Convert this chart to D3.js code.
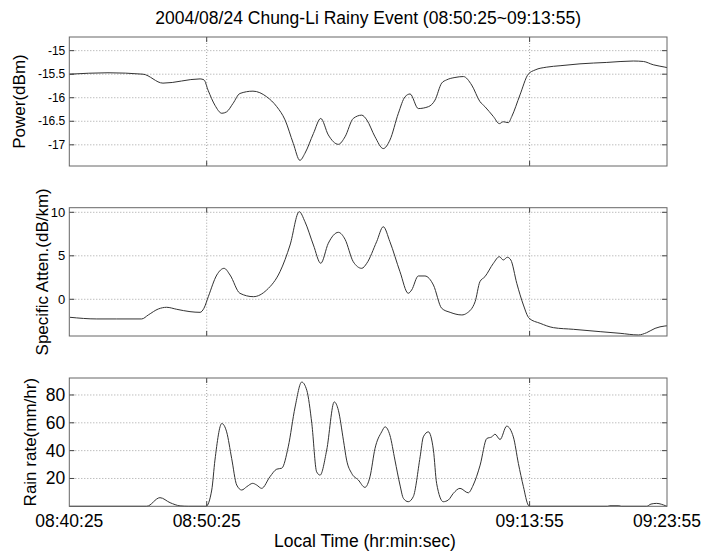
<!DOCTYPE html>
<html>
<head>
<meta charset="utf-8">
<script src="https://cdn.jsdelivr.net/npm/d3@7"></script>
<style>
  body { margin: 0; background: #fff; }
  text { font-family: 'Liberation Sans', Arial, sans-serif; fill: #000; }
</style>
</head>
<body>
<svg id="chart" width="703" height="551"></svg>
<script>
// seconds after 08:40:25
const xTickTimes = [0, 600, 2010, 2610];
const xTickLabels = ['08:40:25', '08:50:25', '09:13:55', '09:23:55'];

const powerTicks = [-15, -15.5, -16, -16.5, -17];
const attenTicks = [0, 5, 10];
const rainTicks = [20, 40, 60, 80];

const powerTime = [0, 169, 322, 409, 571, 588, 606, 636, 666, 687, 715, 745, 802, 862, 906, 942, 978, 1007, 1029, 1066, 1098, 1131, 1175, 1204, 1240, 1277, 1299, 1335, 1371, 1400, 1437, 1466, 1488, 1524, 1568, 1597, 1626, 1648, 1684, 1721, 1757, 1793, 1815, 1852, 1878, 1895, 1917, 1932, 1968, 2004, 2034, 2085, 2143, 2230, 2347, 2463, 2507, 2550, 2601, 2610];
const powerValues = [-15.50, -15.47, -15.50, -15.69, -15.60, -15.62, -15.84, -16.16, -16.33, -16.30, -16.12, -15.91, -15.86, -15.98, -16.19, -16.47, -16.97, -17.33, -17.18, -16.76, -16.44, -16.79, -16.99, -16.83, -16.44, -16.37, -16.47, -16.83, -17.08, -16.90, -16.33, -15.98, -15.92, -16.23, -16.19, -16.05, -15.69, -15.62, -15.57, -15.55, -15.73, -16.08, -16.19, -16.40, -16.55, -16.51, -16.53, -16.40, -15.94, -15.50, -15.41, -15.35, -15.32, -15.28, -15.25, -15.22, -15.23, -15.30, -15.35, -15.36];

const attenTime = [3, 120, 207, 316, 345, 389, 425, 469, 527, 571, 588, 607, 644, 676, 702, 745, 804, 862, 920, 964, 1004, 1029, 1066, 1098, 1131, 1175, 1204, 1240, 1277, 1299, 1342, 1371, 1400, 1444, 1480, 1495, 1524, 1553, 1590, 1626, 1663, 1714, 1735, 1772, 1793, 1815, 1852, 1878, 1895, 1913, 1928, 1954, 1983, 2008, 2056, 2114, 2201, 2318, 2405, 2485, 2521, 2558, 2601, 2610];
const attenValues = [-2.07, -2.26, -2.26, -2.26, -1.8, -1.11, -0.92, -1.15, -1.42, -1.5, -1.03, 0.3, 2.79, 3.56, 2.79, 0.69, 0.3, 1.07, 3.17, 6.24, 10.07, 8.92, 6.24, 4.14, 6.44, 7.70, 6.9, 4.32, 3.56, 4.14, 6.62, 8.34, 6.62, 3.17, 0.69, 1.07, 2.68, 2.68, 1.64, -1.03, -1.5, -1.8, -1.61, -0.28, 2.02, 2.6, 4.14, 4.9, 4.52, 4.83, 4.52, 1.84, -0.66, -2.18, -2.76, -3.26, -3.45, -3.72, -3.91, -4.1, -3.84, -3.34, -3.07, -3.05];

const rainTime = [0, 338, 396, 440, 484, 520, 597, 622, 636, 666, 687, 709, 731, 753, 775, 801, 818, 840, 876, 906, 928, 956, 986, 1015, 1037, 1059, 1080, 1095, 1124, 1157, 1175, 1197, 1211, 1233, 1262, 1291, 1313, 1335, 1364, 1379, 1400, 1422, 1444, 1459, 1480, 1502, 1532, 1546, 1568, 1590, 1604, 1633, 1655, 1677, 1706, 1742, 1764, 1794, 1823, 1845, 1859, 1881, 1910, 1939, 1961, 1983, 2004, 2012, 2350, 2360, 2400, 2410, 2521, 2540, 2565, 2585, 2605, 2610];
const rainValues = [0, 0, 6.2, 2.6, 0.3, 0, 0, 11.7, 33.2, 59.5, 53.5, 34.4, 15.3, 11.7, 14.1, 16.5, 15.3, 12.9, 21.2, 26.7, 27.4, 42.7, 71.4, 89.3, 83.4, 59.5, 24.8, 22.4, 40.4, 75, 69, 47.5, 33.2, 23.7, 18.9, 13.6, 21.2, 41.6, 53.5, 57.1, 51.1, 33.2, 15.3, 5.7, 3.3, 6.9, 35.6, 49.9, 53.5, 40.4, 16.5, 3.3, 4.5, 9.3, 12.9, 9.7, 15.3, 29.6, 48.7, 49.9, 51.8, 48, 57.6, 49.9, 30.8, 14.1, 0.9, 0, 0, 0.4, 0.4, 0, 0, 1.6, 2.1, 1.5, 0.3, 0];

const left = 69.3;
const right = 667;

const svg = d3.select('#chart');

const xscale = d3.scaleLinear()
  .domain([0, 2610])
  .range([left, right]);

svg.append('text')
  .text('2004/08/24 Chung-Li Rainy Event (08:50:25~09:13:55)')
  .attr('x', (left + right) / 2)
  .attr('y', 24)
  .attr('text-anchor', 'middle')
  .style('font-size', '17.5px');

function drawPanel(times, values, ticks, domain, top, bottom, label, labelX, tickSize) {
  const yscale = d3.scaleLinear()
    .domain(domain)
    .range([bottom, top]);

  const g = svg.append('g');

  // grid, horizontal
  g.selectAll('line.hgrid')
    .data(ticks)
    .enter()
    .append('line')
    .attr('x1', left)
    .attr('x2', right)
    .attr('y1', (d) => yscale(d))
    .attr('y2', (d) => yscale(d))
    .attr('stroke', '#8a8a8a')
    .attr('stroke-width', 0.8)
    .attr('stroke-dasharray', '1,2');

  // grid, vertical
  g.selectAll('line.vgrid')
    .data(xTickTimes.slice(1, 3))
    .enter()
    .append('line')
    .attr('x1', (d) => xscale(d))
    .attr('x2', (d) => xscale(d))
    .attr('y1', top)
    .attr('y2', bottom)
    .attr('stroke', '#8a8a8a')
    .attr('stroke-width', 0.8)
    .attr('stroke-dasharray', '1,2');

  // tick marks (inside, both sides)
  ticks.forEach((t) => {
    const y = yscale(t);
    g.append('line').attr('x1', left).attr('x2', left + 5).attr('y1', y).attr('y2', y)
      .attr('stroke', '#444');
    g.append('line').attr('x1', right - 5).attr('x2', right).attr('y1', y).attr('y2', y)
      .attr('stroke', '#444');
  });
  xTickTimes.slice(1, 3).forEach((t) => {
    const x = xscale(t);
    g.append('line').attr('x1', x).attr('x2', x).attr('y1', top).attr('y2', top + 5)
      .attr('stroke', '#444');
    g.append('line').attr('x1', x).attr('x2', x).attr('y1', bottom - 5).attr('y2', bottom)
      .attr('stroke', '#444');
  });

  const line = d3.line()
    .x((d, i) => xscale(times[i]))
    .y((d) => yscale(d))
    .curve(d3.curveMonotoneX);

  g.append('path')
    .datum(values)
    .attr('fill', 'none')
    .attr('stroke', '#333')
    .attr('stroke-width', 1)
    .attr('d', line);

  g.append('rect')
    .attr('x', left)
    .attr('y', top)
    .attr('width', right - left)
    .attr('height', bottom - top)
    .attr('fill', 'none')
    .attr('stroke', '#666')
    .attr('stroke-width', 1);

  g.selectAll('text.ytick')
    .data(ticks)
    .enter()
    .append('text')
    .text((d) => d)
    .attr('x', left - 4)
    .attr('y', (d) => yscale(d))
    .attr('text-anchor', 'end')
    .attr('dominant-baseline', 'central')
    .style('font-size', tickSize);

  g.append('text')
    .text(label)
    .attr('transform', `translate(${labelX}, ${(top + bottom) / 2}) rotate(-90)`)
    .attr('text-anchor', 'middle')
    .attr('dominant-baseline', 'central')
    .style('font-size', '17px');
}

drawPanel(powerTime, powerValues, powerTicks, [-17.45, -14.71], 37, 166, 'Power(dBm)', 19, '12px');
drawPanel(attenTime, attenValues, attenTicks, [-4.22, 10.53], 207.7, 336, 'Specific Atten.(dB/km)', 42, '13px');
drawPanel(rainTime, rainValues, rainTicks, [0, 92.2], 378, 506.3, 'Rain rate(mm/hr)', 30, '17.5px');

svg.append('g')
  .selectAll('text')
  .data(xTickTimes)
  .enter()
  .append('text')
  .text((d, i) => xTickLabels[i])
  .attr('x', (d) => xscale(d))
  .attr('y', 527)
  .attr('text-anchor', 'middle')
  .style('font-size', '17.5px');

svg.append('text')
  .text('Local Time (hr:min:sec)')
  .attr('x', 365)
  .attr('y', 547)
  .attr('text-anchor', 'middle')
  .style('font-size', '17.5px');
</script>
</body>
</html>
